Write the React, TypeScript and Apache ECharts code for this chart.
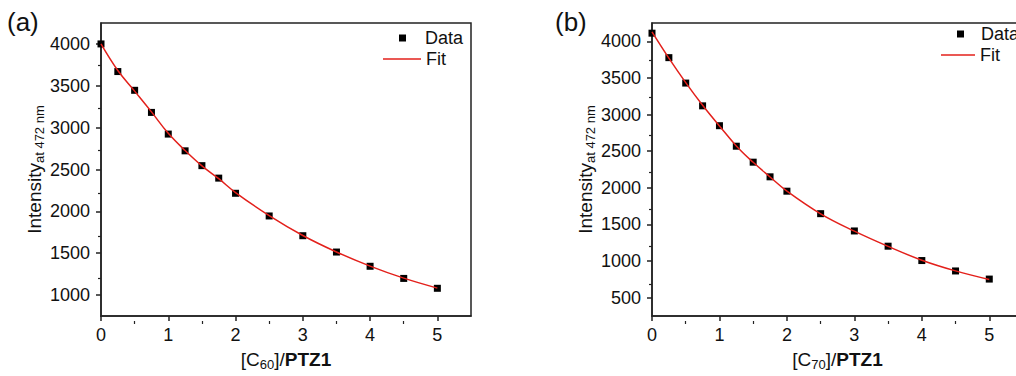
import React, { useEffect, useRef } from 'react';
import * as echarts from 'echarts';

// ---- data ----
const ratioValues = [0, 0.25, 0.5, 0.75, 1, 1.25, 1.5, 1.75, 2, 2.5, 3, 3.5, 4, 4.5, 5];
const intensityC60 = [4000, 3670, 3446, 3182, 2923, 2723, 2546, 2397, 2216, 1945, 1709, 1514, 1344, 1199, 1081];
const fitC60 = [4000, 3682, 3436, 3188, 2932, 2726, 2543, 2390, 2225, 1950, 1712, 1515, 1346, 1202, 1083];
const intensityC70 = [4111, 3777, 3430, 3119, 2848, 2568, 2350, 2150, 1954, 1647, 1411, 1203, 1007, 865, 754];
const fitC70 = [4128, 3770, 3436, 3127, 2845, 2572, 2348, 2148, 1955, 1645, 1408, 1200, 1012, 866, 748];

const xMajorTicks = [0, 1, 2, 3, 4, 5];
const xMinorTicks = [0.5, 1.5, 2.5, 3.5, 4.5];
const yMajorTicksA = [1000, 1500, 2000, 2500, 3000, 3500, 4000];
const yMinorTicksA = [1250, 1750, 2250, 2750, 3250, 3750];
const yMajorTicksB = [500, 1000, 1500, 2000, 2500, 3000, 3500, 4000];
const yMinorTicksB = [750, 1250, 1750, 2250, 2750, 3250, 3750];

const panelLabels = ['(a)', '(b)'];
const legendNames = ['Data', 'Fit'];

const FONT = '"Liberation Sans", Arial, Helvetica, sans-serif';
const AXIS = '#222';
const TEXT = '#111';
const RED = '#e3201b';
const FS = 18;
const NFS = 19;
const SUB = 13;

function pairs(xs: number[], ys: number[]) {
  return xs.map((x, i) => [x, ys[i]]);
}

const plain = (v: number) => String(v);

const yName = {
  name: '{m|Intensity}{s|at 472 nm}',
  nameLocation: 'middle' as const,
  nameGap: 53,
  nameTextStyle: {
    fontFamily: FONT,
    color: TEXT,
    rich: {
      m: { fontSize: NFS, lineHeight: 24, fontFamily: FONT, color: TEXT },
      s: { fontSize: SUB, lineHeight: 13, verticalAlign: 'bottom', fontFamily: FONT, color: TEXT },
    },
  },
};

function xName(sub: string) {
  return {
    name: `{n|[C}{s|${sub}}{n|]/}{b|PTZ1}`,
    nameLocation: 'middle' as const,
    nameGap: 31,
    nameTextStyle: {
      fontFamily: FONT,
      color: TEXT,
      rich: {
        n: { fontSize: NFS, lineHeight: 24, fontFamily: FONT, color: TEXT },
        s: { fontSize: SUB, lineHeight: 13, verticalAlign: 'bottom', fontFamily: FONT, color: TEXT },
        b: { fontSize: NFS, lineHeight: 24, fontWeight: 'bold', fontFamily: FONT, color: TEXT },
      },
    },
  };
}

function mainX(gridIndex: number, sub: string) {
  return {
    type: 'value',
    gridIndex,
    min: 0,
    max: 5.5,
    axisLine: { show: true, onZero: false, lineStyle: { color: AXIS, width: 1.5 } },
    axisTick: { show: true, length: 5, customValues: xMajorTicks, lineStyle: { color: AXIS, width: 1.5 } },
    axisLabel: { customValues: xMajorTicks, formatter: plain, fontSize: FS, color: TEXT, fontFamily: FONT, margin: 10 },
    splitLine: { show: false },
    ...xName(sub),
  };
}

function minorX(gridIndex: number) {
  return {
    type: 'value',
    gridIndex,
    min: 0,
    max: 5.5,
    axisLine: { show: false },
    axisTick: { show: true, length: 3, customValues: xMinorTicks, lineStyle: { color: AXIS, width: 1.2 } },
    axisLabel: { show: false },
    splitLine: { show: false },
  };
}

function mainY(gridIndex: number, min: number, ticks: number[]) {
  return {
    type: 'value',
    gridIndex,
    min,
    max: 4250,
    axisLine: { show: true, onZero: false, lineStyle: { color: AXIS, width: 1.5 } },
    axisTick: { show: true, length: 5, customValues: ticks, lineStyle: { color: AXIS, width: 1.5 } },
    axisLabel: { customValues: ticks, formatter: plain, fontSize: FS, color: TEXT, fontFamily: FONT, margin: 11 },
    splitLine: { show: false },
    ...yName,
  };
}

function minorY(gridIndex: number, min: number, ticks: number[]) {
  return {
    type: 'value',
    gridIndex,
    min,
    max: 4250,
    axisLine: { show: false },
    axisTick: { show: true, length: 3, customValues: ticks, lineStyle: { color: AXIS, width: 1.2 } },
    axisLabel: { show: false },
    splitLine: { show: false },
  };
}

const gridA = { left: 101, top: 23, width: 370, height: 298 };
const gridB = { left: 652, top: 23, width: 371, height: 298 };

export default function App() {
  const ref = useRef<HTMLDivElement>(null);

  useEffect(() => {
    if (!ref.current) return;
    const chart = echarts.init(ref.current, undefined, { renderer: 'svg' });

    const legendCommon = {
      orient: 'vertical',
      icon: 'rect',
      padding: 0,
      selectedMode: false,
      textStyle: { fontSize: FS, color: TEXT, fontFamily: FONT },
    };

    chart.setOption({
      animation: false,
      backgroundColor: '#fff',
      grid: [
        { ...gridA, show: true, borderColor: AXIS, borderWidth: 1.5, backgroundColor: 'transparent' },
        { ...gridA, show: false },
        { ...gridB, show: true, borderColor: AXIS, borderWidth: 1.5, backgroundColor: 'transparent' },
        { ...gridB, show: false },
      ],
      xAxis: [mainX(0, '60'), minorX(1), mainX(2, '70'), minorX(3)],
      yAxis: [
        mainY(0, 750, yMajorTicksA),
        minorY(1, 750, yMinorTicksA),
        mainY(2, 250, yMajorTicksB),
        minorY(3, 250, yMinorTicksB),
      ],
      legend: [
        { ...legendCommon, data: [legendNames[0]], left: 399, top: 29, itemWidth: 7, itemHeight: 7,
          textStyle: { ...legendCommon.textStyle, padding: [0, 0, 0, 14] } },
        { ...legendCommon, data: [legendNames[1]], left: 383, top: 50, itemWidth: 38, itemHeight: 1.5 },
        { ...legendCommon, data: [legendNames[0]], left: 957, top: 25, itemWidth: 7, itemHeight: 7,
          textStyle: { ...legendCommon.textStyle, padding: [0, 0, 0, 12] } },
        { ...legendCommon, data: [legendNames[1]], left: 941, top: 46, itemWidth: 34, itemHeight: 1.5 },
      ],
      graphic: [
        { type: 'text', left: 7, top: 9, style: { text: panelLabels[0], fontSize: 26, fontFamily: FONT, fill: TEXT } },
        { type: 'text', left: 555, top: 9, style: { text: panelLabels[1], fontSize: 26, fontFamily: FONT, fill: TEXT } },
      ],
      series: [
        {
          name: legendNames[0], type: 'scatter', xAxisIndex: 0, yAxisIndex: 0,
          symbol: 'rect', symbolSize: 7, itemStyle: { color: '#000', opacity: 1 }, z: 2,
          data: pairs(ratioValues, intensityC60),
        },
        {
          name: legendNames[1], type: 'line', xAxisIndex: 0, yAxisIndex: 0, smooth: 0.4,
          symbol: 'none', color: RED, lineStyle: { color: RED, width: 1.5 }, z: 3,
          data: pairs(ratioValues, fitC60),
        },
        {
          name: legendNames[0], type: 'scatter', xAxisIndex: 2, yAxisIndex: 2,
          symbol: 'rect', symbolSize: 7, itemStyle: { color: '#000', opacity: 1 }, z: 2,
          data: pairs(ratioValues, intensityC70),
        },
        {
          name: legendNames[1], type: 'line', xAxisIndex: 2, yAxisIndex: 2, smooth: 0.4,
          symbol: 'none', color: RED, lineStyle: { color: RED, width: 1.5 }, z: 3,
          data: pairs(ratioValues, fitC70),
        },
      ],
    });

    return () => chart.dispose();
  }, []);

  return (
    <div style={{ position: 'fixed', left: 0, top: 0, width: 1016, height: 376, overflow: 'hidden', background: '#fff' }}>
      <div ref={ref} style={{ width: 1040, height: 376 }} />
    </div>
  );
}
